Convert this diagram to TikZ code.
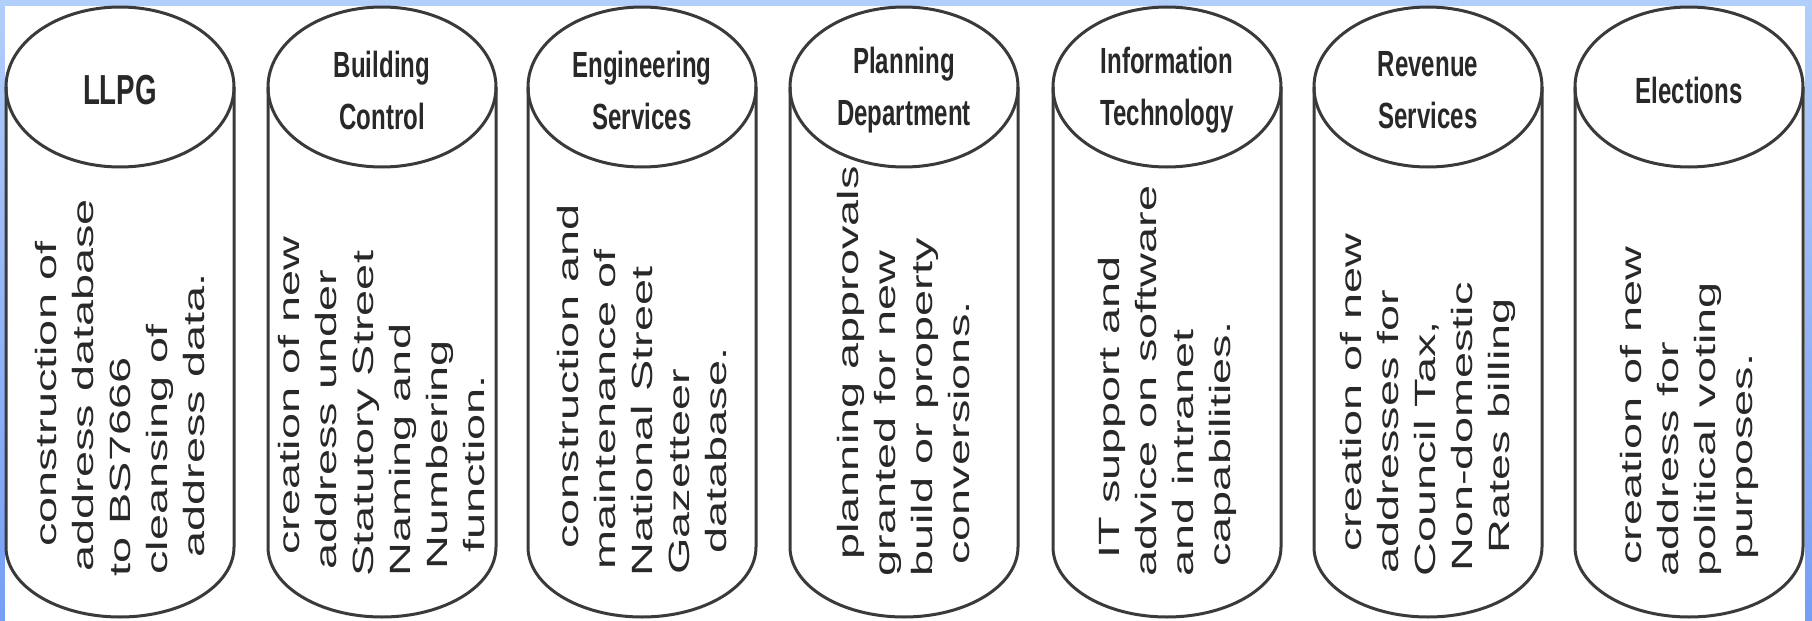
\documentclass[tikz,border=0pt]{standalone}
\usepackage{fontspec}
\setmainfont{Liberation Sans}
\newfontfamily\headfont[FakeStretch=0.66]{Liberation Sans}
\newfontfamily\notefont[FakeStretch=1.6]{Liberation Sans}
\usetikzlibrary{positioning}

\definecolor{edge}{RGB}{58,58,58}
\definecolor{ink}{RGB}{40,40,40}
\definecolor{skytop}{RGB}{178,206,250}
\definecolor{skybot}{RGB}{118,158,245}

\tikzset{
	drum/.style={draw=edge,line width=1.5pt},
	head/.style={font=\headfont\bfseries\fontsize{18.2}{26}\selectfont,text=ink,align=center,inner sep=0pt},
	note/.style={font=\notefont\fontsize{14.65}{18.5}\selectfont,text=ink,align=left,rotate=90,anchor=west,inner sep=0pt}
}

\begin{document}
\begin{tikzpicture}[x=0.5pt,y=-0.5pt]
\useasboundingbox (0,0) rectangle (1812,621);
\shade[top color=skytop,bottom color=skybot] (0,0) rectangle (1812,621);
\fill[white] (5,6) rectangle (1805,621);

% the seven drums
\foreach \x in {120,382,642,904,1167,1428,1689}{
	\draw[drum](\x-114,87)--(\x-114,547)arc[start angle=180,end angle=360,x radius=57pt,y radius=35pt]--(\x+114,87);
	\draw[drum](\x,87)ellipse[x radius=57pt,y radius=40pt];
}

% titles
\node[head](llpg) at (120,90) {\fontsize{21}{26}\selectfont LLPG};
\node[head](building) at (382,90) {Building\\Control};
\node[head](engineering) at (642,90) {Engineering\\Services};
\node[head](planning) at (904,90) {Planning\\Department};
\node[head](it) at (1167,90) {Information\\Technology};
\node[head](revenue) at (1428,90) {Revenue\\Services};
\node[head](elections) at (1689,90) {Elections};

% duties
\node[note](llpgnote) at (120,577) {\hspace*{15pt}construction of\\\hspace*{2.5pt}address database\\to BS7666\\\hspace*{1pt}cleansing of\\\hspace*{9.5pt}address data.};
\node[note](buildingnote) at (382,577) {\hspace*{11pt}creation of new\\\hspace*{3.5pt}address under\\Statutory Street\\Naming and\\\hspace*{3.5pt}Numbering\\\hspace*{12pt}function.};
\node[note](engineeringnote) at (642,577) {\hspace*{14pt}construction and\\\hspace*{3.5pt}maintenance of\\National Street\\\hspace*{1pt}Gazetteer\\\hspace*{11.5pt}database.};
\node[note](planningnote) at (904,577) {\hspace*{8.5pt}planning approvals\\granted for new\\build or property\\\hspace*{6pt}conversions.};
\node[note](itnote) at (1167,577) {\hspace*{9pt}IT support and\\advice on software\\and intranet\\\hspace*{5pt}capabilities.};
\node[note](revenuenote) at (1428,577) {\hspace*{12.5pt}creation of new\\\hspace*{1.5pt}addresses for\\Council Tax,\\\hspace*{2.5pt}Non-domestic\\\hspace*{11.5pt}Rates billing};
\node[note](electionsnote) at (1689,577) {\hspace*{6pt}creation of new\\address for\\political voting\\\hspace*{8.5pt}purposes.};
\end{tikzpicture}
\end{document}
